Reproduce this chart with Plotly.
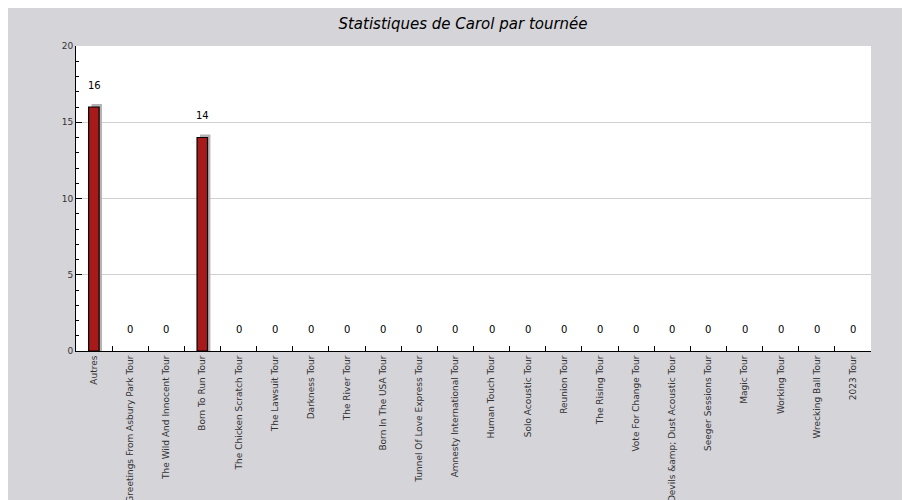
import plotly.graph_objects as go

categories = ["Autres", "Greetings From Asbury Park Tour", "The Wild And Innocent Tour", "Born To Run Tour",
              "The Chicken Scratch Tour", "The Lawsuit Tour", "Darkness Tour", "The River Tour",
              "Born In The USA Tour", "Tunnel Of Love Express Tour", "Amnesty International Tour",
              "Human Touch Tour", "Solo Acoustic Tour", "Reunion Tour", "The Rising Tour",
              "Vote For Change Tour", "Devils &amp;amp; Dust Acoustic Tour", "Seeger Sessions Tour",
              "Magic Tour", "Working Tour", "Wrecking Ball Tour", "2023 Tour"]
values = [16, 0, 0, 14, 0, 0, 0, 0, 0, 0, 0, 0, 0, 0, 0, 0, 0, 0, 0, 0, 0, 0]

font = "DejaVu Sans"
fig = go.Figure()
fig.add_trace(go.Bar(x=categories, y=[v + 0.2 if v > 0 else None for v in values],
                     offset=-0.07, width=0.29, marker=dict(color="#b4b4b4", line=dict(width=0)),
                     hoverinfo="skip"))
fig.add_trace(go.Bar(x=categories, y=[v if v > 0 else None for v in values], offset=-0.15, width=0.29,
                     marker=dict(color="#a8191a", line=dict(color="black", width=1.2))))
for c, v in zip(categories, values):
    fig.add_annotation(x=c, y=v, text=str(v), showarrow=False, yshift=22,
                       font=dict(family=font, size=10, color="black"))
fig.update_layout(
    width=910, height=500, barmode="overlay", showlegend=False,
    paper_bgcolor="#d5d4d9", plot_bgcolor="white",
    margin=dict(l=68, r=47, t=38, b=157, autoexpand=False),
    title=dict(text="<i>Statistiques de Carol par tournée</i>", x=0.5, y=0.968,
               xanchor="center", yanchor="middle", font=dict(family=font, size=15, color="black")),
    font=dict(family=font, size=9, color="#333"),
)
fig.update_xaxes(tickangle=-90, ticks="inside", ticklen=5, tickson="boundaries", tickcolor="black",
                 showline=True, linecolor="black", linewidth=1, showgrid=False, automargin=False,
                 tickfont=dict(family=font, size=9, color="#333"))
fig.update_yaxes(range=[0, 20], tickvals=[0, 5, 10, 15, 20], ticks="inside", ticklen=6, tickcolor="black",
                 showline=True, linecolor="black", linewidth=1, gridcolor="#d0d0d0", automargin=False,
                 minor=dict(dtick=1, ticks="inside", ticklen=3, tickcolor="black", showgrid=False),
                 zeroline=False, tickfont=dict(family=font, size=9, color="#333"))
fig.write_html("out.html")
